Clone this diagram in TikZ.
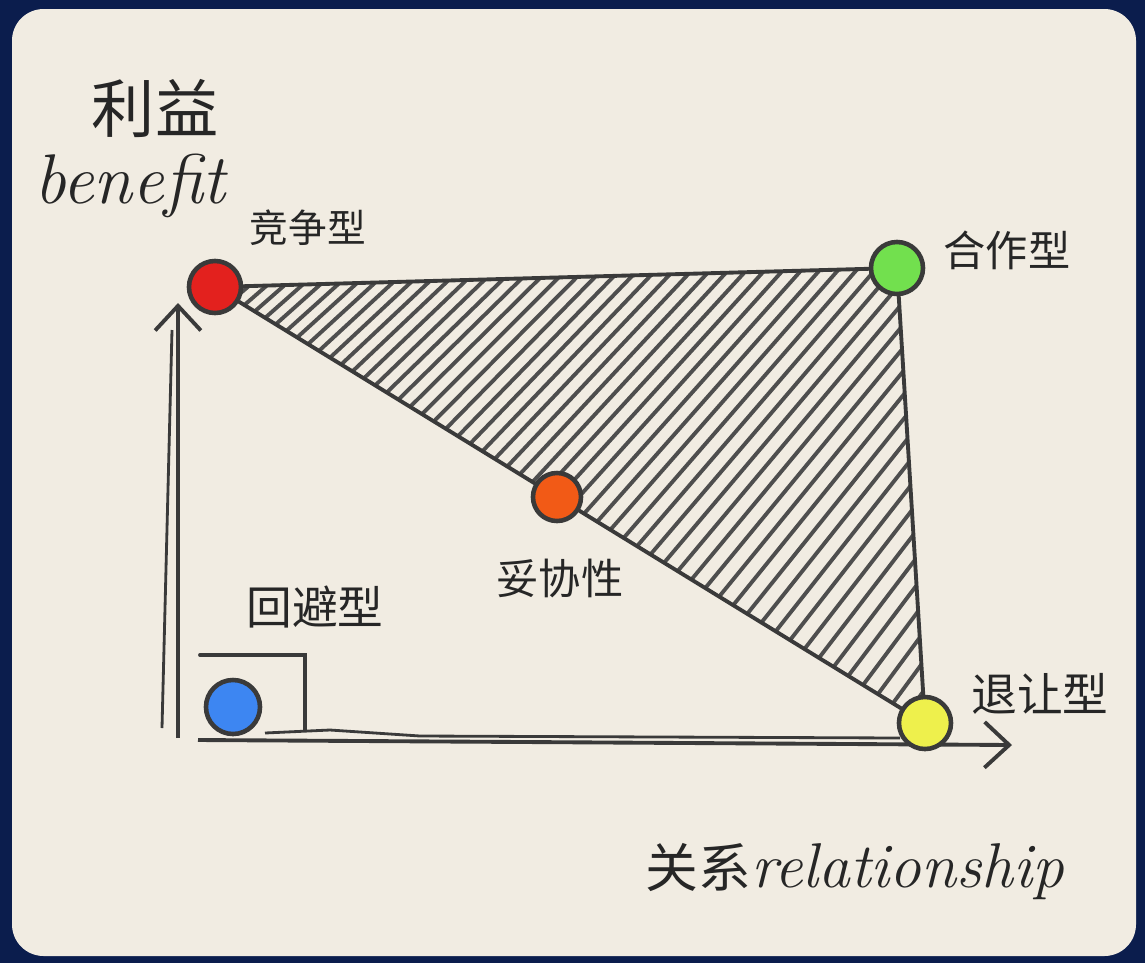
\documentclass[tikz,border=0pt]{standalone}
\usepackage{fontspec}
\newfontfamily\cjk{Noto Sans CJK SC}
\usetikzlibrary{arrows.meta}
\definecolor{navy}{HTML}{0B1D4D}
\definecolor{paper}{HTML}{F1ECE2}
\definecolor{ink}{HTML}{3A3A3A}
\definecolor{cred}{HTML}{E3211E}
\definecolor{cgreen}{HTML}{72E04E}
\definecolor{corange}{HTML}{F25A16}
\definecolor{cblue}{HTML}{3D86F2}
\definecolor{cyellow}{HTML}{EEF04C}
\tikzset{
  dot/.style={circle, draw=ink, line width=1.3pt, minimum size=0.52cm, inner sep=0pt},
  edge/.style={draw=ink, line width=1.1pt, line cap=round},
  hatch/.style={draw=ink!90, line width=1.1pt, line cap=round},
  axis/.style={draw=ink, line width=1.1pt, -{Straight Barb[length=7pt,width=13pt,line width=1.1pt]}},
  zh/.style={font=\cjk\fontsize{12}{14}\selectfont, text=black!85, inner sep=0pt},
  en/.style={font=\itshape\fontsize{20}{24}\selectfont, text=black!85, inner sep=0pt}
}
\begin{document}
\begin{tikzpicture}[x=0.01cm,y=-0.01cm]
\useasboundingbox (0,0) rectangle (1145,963);
\fill[navy] (0,0) rectangle (1145,963);
\fill[paper, rounded corners=9pt] (12,9) rectangle (1136,956);

% key points
\coordinate (pR) at (215,287);
\coordinate (pG) at (897,268);
\coordinate (pO) at (557,497);
\coordinate (pB) at (233,707);
\coordinate (pY) at (925,723);

% hatching of the triangle
\begin{scope}
\clip (pR) -- (pG) -- (pY) -- cycle;
\foreach \i in {0,...,80} {
  \pgfmathsetmacro{\ang}{38+\i*0.25}
  \draw[hatch] (-520+\i*22, 740) -- ++(-\ang:1400);
}
\end{scope}

% axes
\coordinate (O) at (178,738);
\coordinate (ytip) at (178,303);
\coordinate (xstart) at (198,740);
\coordinate (xtip) at (1012,745);
\draw[axis] (O) -- (ytip);
\draw[ink, line width=0.8pt] (162,728) -- (172,330);
\draw[axis] (xstart) -- (xtip);
\draw[ink, line width=0.8pt] (265,733) -- (330,730) -- (420,736) -- (900,738);

% small box at the avoiding point
\draw[edge] (200,655) -- (305,655) -- (305,730);

% nodes
\node[dot, fill=cred] (red) at (pR) {};
\node[dot, fill=cgreen] (green) at (pG) {};
\node[dot, fill=corange, minimum size=0.48cm] (orange) at (pO) {};
\node[dot, fill=cblue, minimum size=0.54cm] (blue) at (pB) {};
\node[dot, fill=cyellow] (yellow) at (pY) {};

% connectors
\draw[edge] (red) -- (green);
\draw[edge] (green) -- (yellow);
\draw[edge] (red) -- (orange);
\draw[edge] (orange) -- (yellow);

% labels
\node[zh, font=\cjk\fontsize{18}{20}\selectfont] (lbenefitzh) at (155,108) {利益};
\node[en] (lbenefit) at (130,186) {benefit};
\node[zh, font=\cjk\fontsize{11}{13}\selectfont] (lcomp) at (308,228) {竞争型};
\node[zh] (lcoop) at (1007,250) {合作型};
\node[zh] (lcompro) at (560,578) {妥协性};
\node[zh, font=\cjk\fontsize{13}{15}\selectfont] (lavoid) at (315,607) {回避型};
\node[zh, font=\cjk\fontsize{13}{15}\selectfont] (laccom) at (1040,694) {退让型};
\node[en, font=\fontsize{18}{22}\selectfont] (lrel) at (855,872) {{\cjk\fontsize{15}{18}\selectfont 关系}\itshape relationship};
\end{tikzpicture}
\end{document}
